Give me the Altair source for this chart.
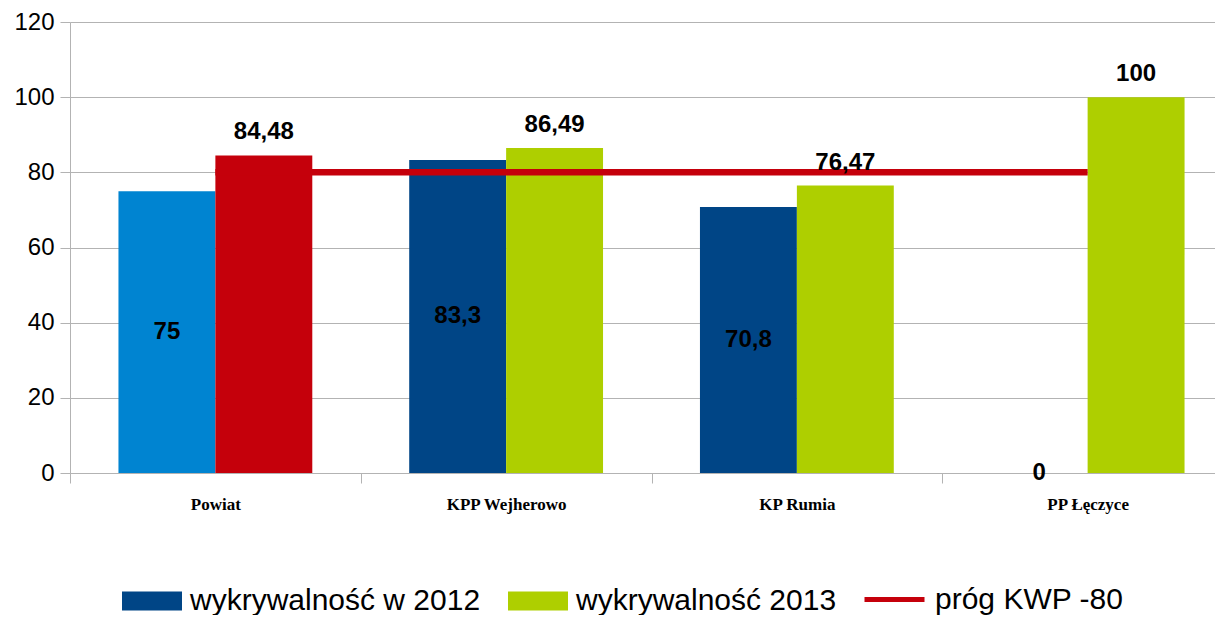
import altair as alt
import pandas as pd

categories = ["Powiat", "KPP Wejherowo", "KP Rumia", "PP Łęczyce"]
series_names = ["wykrywalność w 2012", "wykrywalność 2013"]
line_name = "próg KWP -80"
values_2012 = [75, 83.3, 70.8, 0]
values_2013 = [84.48, 86.49, 76.47, 100]
labels_2012 = ["75", "83,3", "70,8", "0"]
labels_2013 = ["84,48", "86,49", "76,47", "100"]
threshold = [80, 80, 80, 80]
fill_keys_2012 = ["Powiat 2012", "wykrywalność w 2012", "wykrywalność w 2012", "wykrywalność w 2012"]
fill_keys_2013 = ["Powiat 2013", "wykrywalność 2013", "wykrywalność 2013", "wykrywalność 2013"]
fill_domain = ["wykrywalność w 2012", "wykrywalność 2013", "Powiat 2012", "Powiat 2013"]
fill_range = ["#004586", "#aecf00", "#0084d1", "#c5000b"]
line_color = "#c5000b"

rows = []
for i, c in enumerate(categories):
    rows.append({"cat": c, "series": series_names[0], "value": values_2012[i],
                 "label": labels_2012[i], "fillkey": fill_keys_2012[i]})
    rows.append({"cat": c, "series": series_names[1], "value": values_2013[i],
                 "label": labels_2013[i], "fillkey": fill_keys_2013[i]})
bar_df = pd.DataFrame(rows)
line_df = pd.DataFrame({"cat": categories, "threshold": threshold, "series": [line_name] * 4})

x_enc = alt.X("cat:N", sort=categories,
              scale=alt.Scale(paddingInner=0, paddingOuter=0, range=[0, 1163]),
              axis=alt.Axis(title=None, labelAngle=0, tickBand="extent", grid=False,
                            labelFont="Liberation Serif", labelFontWeight="bold",
                            labelFontSize=17, labelColor="#000000", labelPadding=13,
                            tickSize=10, tickColor="#b3b3b3", domainColor="#b3b3b3"))
xo_enc = alt.XOffset("series:N", sort=series_names,
                     scale=alt.Scale(paddingInner=0, paddingOuter=0.5))
y_scale = alt.Scale(domain=[0, 120], nice=False)

bars = alt.Chart(bar_df).mark_bar().encode(
    x=x_enc,
    xOffset=xo_enc,
    y=alt.Y("value:Q", scale=y_scale,
            axis=alt.Axis(title=None, values=[0, 20, 40, 60, 80, 100, 120], grid=True,
                          gridColor="#b3b3b3", domainColor="#b3b3b3", tickColor="#b3b3b3",
                          tickSize=10, labelFont="Liberation Sans", labelFontSize=24,
                          labelColor="#000000", labelPadding=6)),
    fill=alt.Fill("fillkey:N", scale=alt.Scale(domain=fill_domain, range=fill_range),
                  legend=alt.Legend(title=None, values=series_names, orient="none",
                                    legendX=52, legendY=549, direction="horizontal",
                                    symbolType="M-1,-0.317H1V0.317H-1Z", symbolSize=3600,
                                    symbolStrokeWidth=0, labelFont="Liberation Sans",
                                    labelFontSize=30, labelColor="#000000", labelOffset=8,
                                    columnPadding=27, labelLimit=400)),
)

line = alt.Chart(line_df).mark_line(strokeWidth=6.5).encode(
    x=alt.X("cat:N", sort=categories),
    y=alt.Y("threshold:Q", scale=y_scale),
    stroke=alt.Stroke("series:N", scale=alt.Scale(domain=[line_name], range=[line_color]),
                      legend=alt.Legend(title=None, orient="none", legendX=792, legendY=545,
                                        symbolType="stroke", symbolSize=3600,
                                        symbolStrokeWidth=5, labelFont="Liberation Sans",
                                        labelFontSize=30, labelColor="#000000", labelOffset=8,
                                        labelLimit=400)),
)

text_2012 = alt.Chart(bar_df).transform_filter(
    alt.datum.series == series_names[0]
).transform_calculate(mid="datum.value / 2").mark_text(
    font="Liberation Sans", fontSize=24, fontWeight="bold", color="#000000", baseline="middle"
).encode(
    x=alt.X("cat:N", sort=categories),
    xOffset=alt.XOffset("series:N", sort=series_names),
    y=alt.Y("mid:Q", scale=y_scale),
    text="label:N",
)

text_2013 = alt.Chart(bar_df).transform_filter(
    alt.datum.series == series_names[1]
).mark_text(
    font="Liberation Sans", fontSize=24, fontWeight="bold", color="#000000",
    baseline="middle", dy=-23
).encode(
    x=alt.X("cat:N", sort=categories),
    xOffset=alt.XOffset("series:N", sort=series_names),
    y=alt.Y("value:Q", scale=y_scale),
    text="label:N",
)

chart = alt.layer(bars, line, text_2012, text_2013).properties(
    width=1145, height=451, autosize="none",
    padding={"left": 62, "top": 14, "right": 0, "bottom": 142},
).configure_view(stroke=None)

chart.save("out.html", embed_options={"renderer": "svg", "actions": False})
